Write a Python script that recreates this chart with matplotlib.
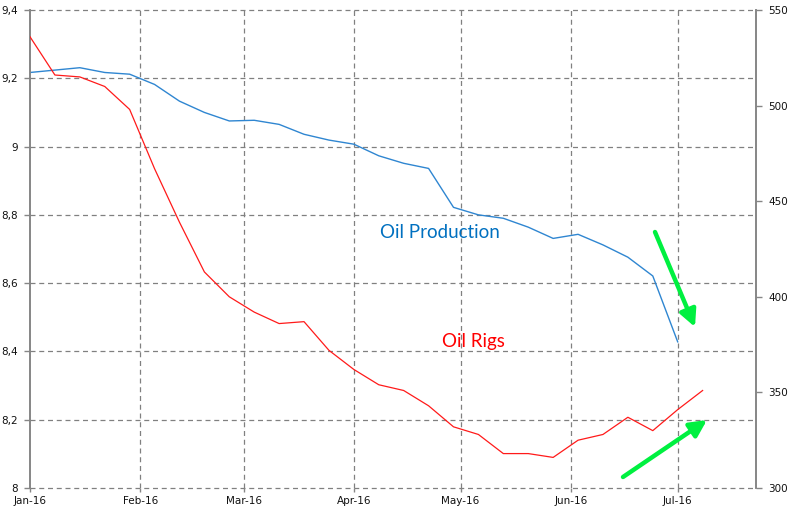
import matplotlib
matplotlib.use("Agg")
import matplotlib.pyplot as plt
import matplotlib.patches as mpatches
import datetime as dt

# ---- data ----
prod_dates = ["2016-01-01", "2016-01-08", "2016-01-15", "2016-01-22", "2016-01-29",
              "2016-02-05", "2016-02-12", "2016-02-19", "2016-02-26",
              "2016-03-04", "2016-03-11", "2016-03-18", "2016-03-25",
              "2016-04-01", "2016-04-08", "2016-04-15", "2016-04-22", "2016-04-29",
              "2016-05-06", "2016-05-13", "2016-05-20", "2016-05-27",
              "2016-06-03", "2016-06-10", "2016-06-17", "2016-06-24", "2016-07-01"]
oil_production = [9.217, 9.224, 9.231, 9.217, 9.212,
                  9.182, 9.133, 9.100, 9.075,
                  9.077, 9.065, 9.036, 9.019,
                  9.007, 8.973, 8.951, 8.936, 8.822,
                  8.800, 8.790, 8.764, 8.731,
                  8.743, 8.712, 8.676, 8.621, 8.428]

rig_dates = prod_dates + ["2016-07-08"]
oil_rigs = [536, 516, 515, 510, 498,
            467, 439, 413, 400,
            392, 386, 387, 372,
            362, 354, 351, 343, 332,
            328, 318, 318, 316,
            325, 328, 337, 330, 341, 351]

left_ticks = [8.0, 8.2, 8.4, 8.6, 8.8, 9.0, 9.2, 9.4]
left_labels = ["8", "8,2", "8,4", "8,6", "8,8", "9", "9,2", "9,4"]
right_ticks = [300, 350, 400, 450, 500, 550]
month_ticks = ["2016-01-01", "2016-02-01", "2016-03-01", "2016-04-01",
               "2016-05-01", "2016-06-01", "2016-07-01"]
month_labels = ["Jan-16", "Feb-16", "Mar-16", "Apr-16", "May-16", "Jun-16", "Jul-16"]

to_date = lambda s: dt.datetime.strptime(s, "%Y-%m-%d")
pd_x = [to_date(s) for s in prod_dates]
rg_x = [to_date(s) for s in rig_dates]
mt_x = [to_date(s) for s in month_ticks]

# ---- figure ----
fig = plt.figure(figsize=(7.89, 5.12), dpi=100)
ax = fig.add_axes([30/789, 24/512, 726/789, 478/512])
ax2 = ax.twinx()

grid_c = "#808080"
spine_c = "#868686"
dash = (0, (4, 3))

ax.set_xlim(to_date("2016-01-01"), to_date("2016-07-23"))
ax.set_ylim(8.0, 9.4)
ax2.set_ylim(300, 550)

ax.set_yticks(left_ticks)
ax.set_yticklabels(left_labels)
ax2.set_yticks(right_ticks)
ax2.set_yticklabels([str(v) for v in right_ticks])
ax.set_xticks(mt_x)
ax.set_xticklabels(month_labels)

# grid
for y in left_ticks:
    ax.axhline(y, color=grid_c, lw=0.9, ls=dash, zorder=0, clip_on=False)
for x in mt_x[1:]:
    ax.axvline(x, color=grid_c, lw=0.9, ls=dash, zorder=0)

for a in (ax, ax2):
    a.spines["top"].set_visible(False)
    a.spines["bottom"].set_visible(False)
    a.spines["left"].set_color(spine_c)
    a.spines["right"].set_color(spine_c)
    a.spines["left"].set_linewidth(1.2)
    a.spines["right"].set_linewidth(1.2)
    a.patch.set_visible(False)

tick_font = dict(labelsize=7.5, labelcolor="#111111", color=spine_c, width=1)
ax.tick_params(axis="y", which="both", left=True, right=False, length=4, pad=5, **tick_font)
ax.tick_params(axis="x", bottom=True, length=3, pad=3, **tick_font)
ax2.tick_params(axis="y", right=True, left=False, length=4, pad=5, **tick_font)

ax.plot(pd_x, oil_production, color="#2F86D1", lw=1.0, zorder=3)
ax2.plot(rg_x, oil_rigs, color="#FF1A1A", lw=0.9, zorder=3)

fig.text(439.5/789, 1 - 233/512, "Oil Production", color="#0070C0",
         fontsize=13.5, family="Lato", ha="center", va="center")
fig.text(473/789, 1 - 341.5/512, "Oil Rigs", color="#FF0000",
         fontsize=13.5, family="Lato", ha="center", va="center")

green = "#00F040"
ap = dict(arrowstyle="-|>,head_length=1.0,head_width=0.5", lw=3.2, color=green,
          shrinkA=0, shrinkB=0, mutation_scale=10)
fig.add_artist(mpatches.FancyArrowPatch(
    (655/789, 1 - 232/512), (695/789, 1 - 327/512), transform=fig.transFigure, **ap))
fig.add_artist(mpatches.FancyArrowPatch(
    (623/789, 1 - 477/512), (707/789, 1 - 420/512), transform=fig.transFigure, **ap))

fig.savefig("out.png", dpi=100)
